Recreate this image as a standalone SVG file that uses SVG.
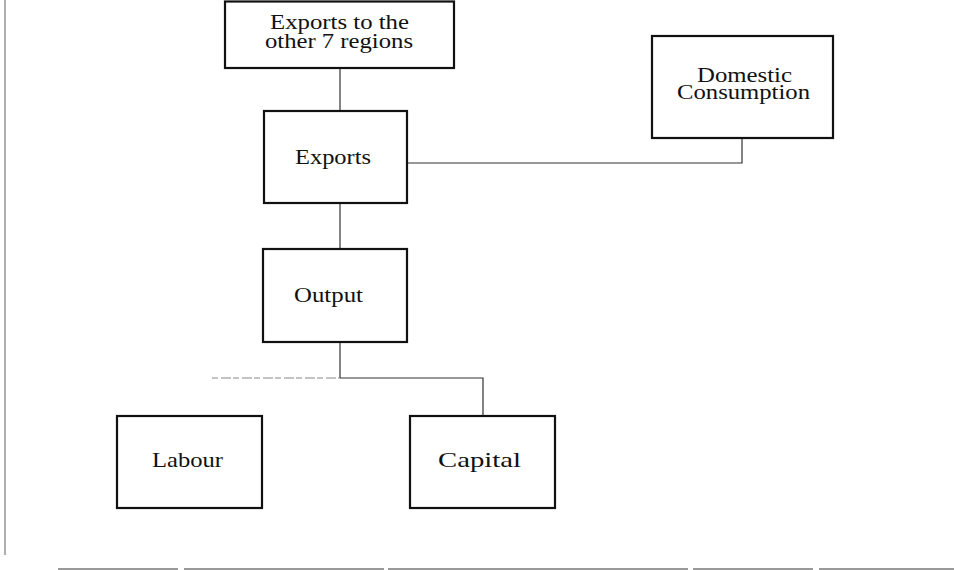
<svg xmlns="http://www.w3.org/2000/svg" width="954" height="570" viewBox="0 0 954 570">
<style>
.box{fill:#fff;stroke:#111;stroke-width:2.2}
.lbl{font-family:"Liberation Serif","Times New Roman",serif;font-size:21px;fill:#111;text-anchor:middle}
.cn{fill:none;stroke:#333;stroke-width:1.2}
</style>
<rect width="954" height="570" fill="#fff"/>
<g id="frame">
<line x1="5" y1="0" x2="5" y2="555" stroke="#777" stroke-width="1.2"/>
<line x1="58" y1="569" x2="954" y2="569" stroke="#999" stroke-width="2" stroke-dasharray="120 6 200 4 300 5"/>
</g>
<g id="connectors">
<line class="cn" x1="340" y1="68" x2="340" y2="111"/>
<polyline class="cn" points="407,163 742,163 742,138"/>
<line class="cn" x1="340" y1="203" x2="340" y2="249"/>
<line class="cn" x1="340" y1="342" x2="340" y2="378"/>
<line x1="212" y1="378" x2="340" y2="378" stroke="#888" stroke-width="1" stroke-dasharray="6 3 10 2"/>
<polyline class="cn" points="340,378 483,378 483,416"/>
</g>
<g id="exports-to-regions">
<rect class="box" x="225" y="1.5" width="229" height="66.5"/>
<text class="lbl" x="339.5" y="28.5" textLength="139" lengthAdjust="spacingAndGlyphs">Exports to the</text>
<text class="lbl" x="339" y="48" textLength="148" lengthAdjust="spacingAndGlyphs">other 7 regions</text>
</g>
<g id="domestic-consumption">
<rect class="box" x="652" y="36" width="181" height="102"/>
<text class="lbl" x="744.5" y="82" textLength="95" lengthAdjust="spacingAndGlyphs">Domestic</text>
<text class="lbl" x="743.5" y="98.5" textLength="133" lengthAdjust="spacingAndGlyphs">Consumption</text>
</g>
<g id="exports">
<rect class="box" x="264" y="111" width="143" height="92"/>
<text class="lbl" x="333" y="164" textLength="76" lengthAdjust="spacingAndGlyphs">Exports</text>
</g>
<g id="output">
<rect class="box" x="263" y="249" width="144" height="93"/>
<text class="lbl" x="328.5" y="302" textLength="69" lengthAdjust="spacingAndGlyphs">Output</text>
</g>
<g id="labour">
<rect class="box" x="117" y="416" width="145" height="92"/>
<text class="lbl" x="187.5" y="467" textLength="71" lengthAdjust="spacingAndGlyphs">Labour</text>
</g>
<g id="capital">
<rect class="box" x="410" y="416" width="145" height="92"/>
<text class="lbl" x="479.5" y="467" textLength="83" lengthAdjust="spacingAndGlyphs">Capital</text>
</g>
</svg>
